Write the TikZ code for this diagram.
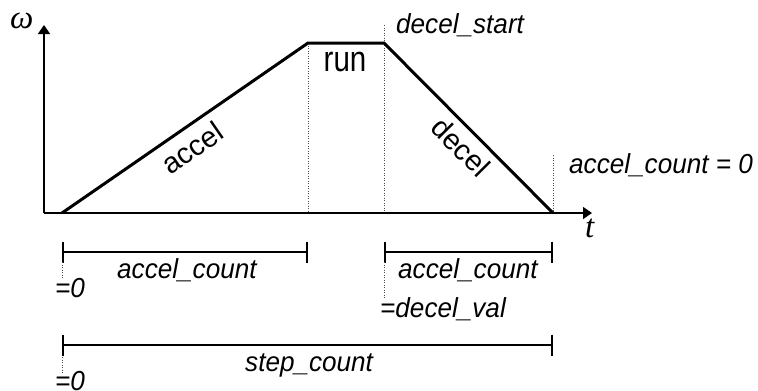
\documentclass[tikz,border=0pt]{standalone}
\usepackage{fontspec}
\setmainfont{Liberation Sans}
\newfontfamily\seriffam{Liberation Serif}
\usetikzlibrary{arrows.meta}
\begin{document}
\begin{tikzpicture}[x=1pt,y=-1pt,
  lbl/.style={font=\fontsize{27.5}{32}\selectfont\itshape, inner sep=0pt, xscale=0.95},
  rotlbl/.style={font=\fontsize{29}{34}\selectfont, inner sep=0pt},
  runlbl/.style={font=\fontsize{36}{40}\selectfont, inner sep=0pt, xscale=0.82},
  greek/.style={font=\fontsize{33}{36}\selectfont\seriffam\itshape, inner sep=0pt},
  profile/.style={line width=3pt, line join=miter},
  axis/.style={line width=1.5pt, -{Triangle[length=9pt,width=12pt]}},
  dimline/.style={line width=2pt, {Bar[width=21pt]}-{Bar[width=21pt]}},
  guide/.style={line width=1pt, gray!60!black, dash pattern=on 1pt off 1.5pt}]
\useasboundingbox (0,0) rectangle (758,391);
% key points
\coordinate (O) at (44,213);
\coordinate (ytop) at (44,25);
\coordinate (xend) at (592,213);
\coordinate (A) at (62,213);
\coordinate (B) at (308,43);
\coordinate (C) at (384,43);
\coordinate (D) at (553,213);
\coordinate (Bb) at (308,213);
\coordinate (Ct) at (384,25);
\coordinate (Cb) at (384,213);
\coordinate (Dt) at (553,155);
% guides
\draw[guide] (B) -- (Bb);
\draw[guide] (Ct) -- (Cb);
\draw[guide] (Dt) -- (D);
% axes
\draw[axis] (O) -- (ytop);
\draw[axis] (O) -- (xend);
% profile
\draw[profile] (A) -- (B) -- (C) -- (D);
% dimension lines
\coordinate (r1a) at (62,252);
\coordinate (r1b) at (308,252);
\coordinate (r1c) at (384,252);
\coordinate (r1d) at (553,252);
\coordinate (r2a) at (62,345);
\coordinate (r2b) at (553,345);
\draw[dimline] (r1a) -- (r1b);
\draw[dimline] (r1c) -- (r1d);
\draw[dimline] (r2a) -- (r2b);
\coordinate (g1a) at (62,262);
\coordinate (g1b) at (62,279);
\coordinate (g2a) at (384,262);
\coordinate (g2b) at (384,298);
\coordinate (g3a) at (62,357);
\coordinate (g3b) at (62,373);
\draw[guide] (g1a) -- (g1b);
\draw[guide] (g2a) -- (g2b);
\draw[guide] (g3a) -- (g3b);
% labels
\node[greek, anchor=base west] (omega) at (10,28) {ω};
\node[greek, anchor=base west] (tlab) at (585,237) {t};
\node[runlbl] (run) at (345,62) {run};
\node[rotlbl, rotate=34.6] (accel) at (192,148) {accel};
\node[rotlbl, rotate=-45.2] (decel) at (461,147) {decel};
\node[lbl, anchor=base west] (dstart) at (396,33) {decel\_start};
\node[lbl, anchor=base west] (acz) at (569,173) {accel\_count = 0};
\node[lbl, anchor=base west] (ac1) at (117,278) {accel\_count};
\node[lbl, anchor=base west] (ac2) at (398,278) {accel\_count};
\node[lbl, anchor=base west] (z1) at (55,297) {=0};
\node[lbl, anchor=base west] (dval) at (380,317) {=decel\_val};
\node[lbl, anchor=base west] (sc) at (245,371) {step\_count};
\node[lbl, anchor=base west] (z2) at (55,390) {=0};
\end{tikzpicture}
\end{document}
